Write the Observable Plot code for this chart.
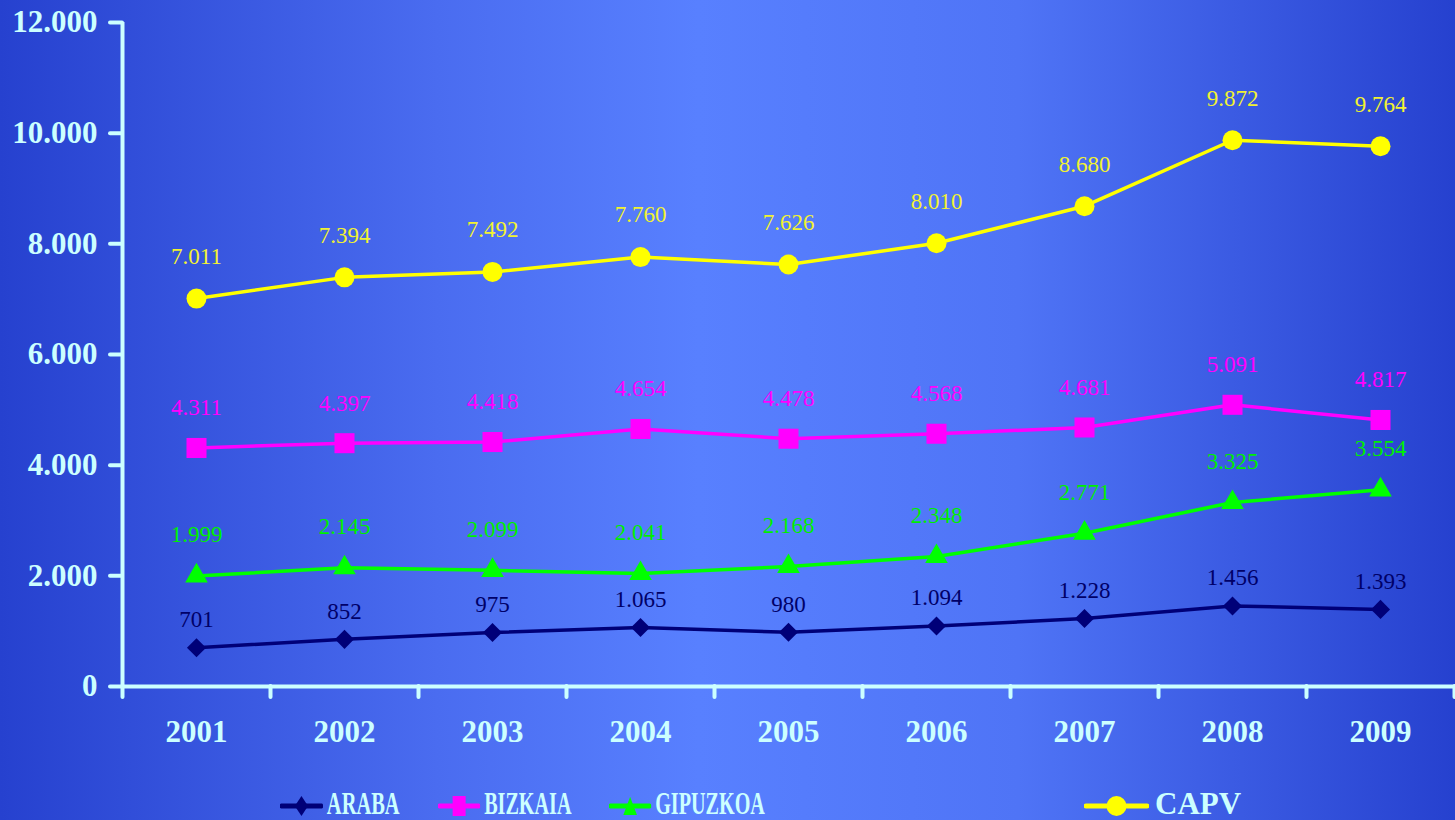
<!DOCTYPE html>
<html>
<head>
<meta charset="utf-8">
<script src="https://cdn.jsdelivr.net/npm/d3@7"></script>
<script src="https://cdn.jsdelivr.net/npm/@observablehq/plot@0.6"></script>
<style>
  html, body { margin: 0; padding: 0; }
  body { width: 1455px; height: 820px; overflow: hidden;
    background: linear-gradient(to right, #2641cf 0%, #4a6cf0 30%, #5880ff 48%, #4f74f6 70%, #2641cf 100%); }
  #chart { width: 1455px; height: 775px; }
  #legend { position: relative; width: 1455px; height: 45px; font-family: "Liberation Serif", serif; }
  .item { position: absolute; top: 14px; height: 32px; transform-origin: 0 0; white-space: nowrap; }
  .lt { position: absolute; top: 0; font-weight: bold; font-size: 31px; line-height: 30px; color: #ccffff; white-space: nowrap; }
  .sw { position: absolute; top: 2px; left: 0; }
</style>
</head>
<body>
<div id="chart"></div>
<div id="legend"></div>
<script>
const years = [2001, 2002, 2003, 2004, 2005, 2006, 2007, 2008, 2009];
const araba = [701, 852, 975, 1065, 980, 1094, 1228, 1456, 1393];
const bizkaia = [4311, 4397, 4418, 4654, 4478, 4568, 4681, 5091, 4817];
const gipuzkoa = [1999, 2145, 2099, 2041, 2168, 2348, 2771, 3325, 3554];
const capv = [7011, 7394, 7492, 7760, 7626, 8010, 8680, 9872, 9764];
const seriesNames = ["ARABA", "BIZKAIA", "GIPUZKOA", "CAPV"];
const seriesColors = ["#000078", "#ff00ff", "#00ff00", "#ffff00"];
const labelColors = ["#000068", "#ff00ff", "#00ee00", "#f2f230"];
const seriesSymbols = ["diamond2", "square", "triangle", "circle"];
const symbolR = [8.6, 11.3, 8.4, 10];
const labelDy = [-28, -40, -41, -42];
const yTicks = [0, 2000, 4000, 6000, 8000, 10000, 12000];
const yearBounds = [2000.5, 2001.5, 2002.5, 2003.5, 2004.5, 2005.5, 2006.5, 2007.5, 2008.5, 2009.5];

const seriesValues = [araba, bizkaia, gipuzkoa, capv];
const fmt = d => d.toLocaleString("de-DE");
const axisColor = "#ccffff";

const seriesMarks = [];
seriesNames.forEach((name, i) => {
  const rows = years.map((y, j) => ({ year: y, value: seriesValues[i][j], name }));
  seriesMarks.push(Plot.line(rows, { x: "year", y: "value", stroke: seriesColors[i], strokeWidth: 3.5 }));
  seriesMarks.push(Plot.dot(rows, { x: "year", y: "value", symbol: () => seriesSymbols[i], r: symbolR[i], fill: seriesColors[i], stroke: "none" }));
  seriesMarks.push(Plot.text(rows, { x: "year", y: "value", text: d => fmt(d.value), dy: labelDy[i], fill: labelColors[i], fontSize: 23, fontFamily: "Liberation Serif" }));
});

const chart = Plot.plot({
  width: 1455,
  height: 775,
  marginLeft: 122,
  marginRight: 1,
  marginTop: 22,
  marginBottom: 89,
  x: { domain: [2000.5, 2009.5], label: null },
  y: { domain: [0, 12000], label: null },
  symbol: { type: "identity" },
  style: { background: "transparent", fontFamily: "Liberation Serif", color: axisColor, overflow: "visible" },
  marks: [
    Plot.axisY({ ticks: yTicks, tickSize: 12, tickPadding: 13, tickFormat: fmt, fontSize: 31, fontWeight: "bold", stroke: axisColor, strokeWidth: 4, strokeLinecap: "round", fill: axisColor }),
    Plot.axisX({ ticks: yearBounds, tickSize: 11, tickFormat: () => "", stroke: axisColor, strokeWidth: 4, strokeLinecap: "round" }),
    Plot.axisX({ ticks: years, tickSize: 0, tickPadding: 33, tickFormat: d => String(d), fontSize: 31, fontWeight: "bold", fill: axisColor }),
    Plot.ruleY([0], { stroke: axisColor, strokeWidth: 4 }),
    Plot.ruleX([2000.5], { stroke: axisColor, strokeWidth: 4 }),
    ...seriesMarks
  ]
});
document.getElementById("chart").appendChild(chart);

// Legend: each item = 61px line with marker, 8px gap, bold label; first three are squeezed horizontally
const legendX = [280, 438, 609, 1084];
const legendScale = [0.66, 0.65, 0.65, 1.0];
const legendSymR = [9, 8.2, 7.8, 10];
const legend = document.getElementById("legend");
const symMap = { diamond2: d3.symbolDiamond2, square: d3.symbolSquare, triangle: d3.symbolTriangle, circle: d3.symbolCircle };
seriesNames.forEach((name, i) => {
  const item = document.createElement("div");
  item.className = "item";
  item.style.left = legendX[i] + "px";
  item.style.transform = `scaleX(${legendScale[i]})`;
  const lw = 61;
  const svg = d3.create("svg").attr("class", "sw").attr("width", lw + 4).attr("height", 30);
  svg.append("line").attr("x1", 2).attr("x2", 2 + lw).attr("y1", 15).attr("y2", 15)
    .attr("stroke", seriesColors[i]).attr("stroke-width", 5).attr("stroke-linecap", "round");
  const sym = seriesSymbols[i] === "square"
    ? d3.symbol(d3.symbolSquare, 400)()
    : d3.symbol(symMap[seriesSymbols[i]], Math.PI * legendSymR[i] * legendSymR[i])();
  svg.append("path").attr("transform", `translate(${2 + lw / 2},${seriesSymbols[i] === "triangle" ? 18 : 15})`)
    .attr("d", sym).attr("fill", seriesColors[i]);
  item.appendChild(svg.node());
  const span = document.createElement("span");
  span.className = "lt";
  span.textContent = name;
  span.style.left = (lw + 10) + "px";
  item.appendChild(span);
  legend.appendChild(item);
});
</script>
</body>
</html>
